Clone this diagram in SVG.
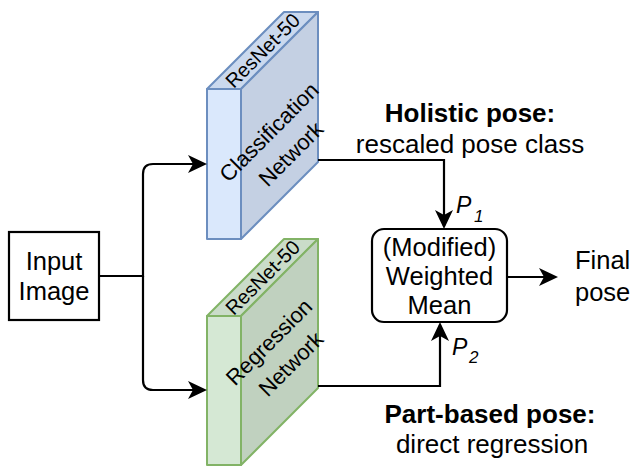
<svg xmlns="http://www.w3.org/2000/svg" width="632" height="467" viewBox="0 0 632 467">
<defs>
<marker id="arr" markerUnits="userSpaceOnUse" markerWidth="19" markerHeight="18" viewBox="0 0 19 18" refX="16" refY="9" orient="auto">
<path d="M0,0 L19,9 L0,18 L5,9 z" fill="#000"/>
</marker>
</defs>
<style>
text{font-family:"Liberation Sans",Arial,Helvetica,sans-serif;fill:#000}
.t{font-size:25.5px;text-anchor:middle}
.l{font-size:26px;text-anchor:middle}
.b{font-weight:bold}
.r{font-size:22px;text-anchor:middle}
.rn{font-size:20px;text-anchor:middle}
.p{font-size:23px;font-style:italic}
.s{font-size:17px;font-style:italic}
.conn path{fill:none;stroke:#000;stroke-width:2.2}
.blue{stroke:#6c8ebf;stroke-width:2;stroke-linejoin:round}
.green{stroke:#82b366;stroke-width:2;stroke-linejoin:round}
</style>
<g id="input">
<rect x="9" y="232" width="90" height="88" fill="#fff" stroke="#000" stroke-width="2.2"/>
<text class="t" x="54" y="270">Input</text>
<text class="t" x="54" y="300">Image</text>
</g>
<g id="classification">
<rect class="blue" x="207" y="89" width="34" height="150" fill="#dae8fc"/>
<polygon class="blue" points="207,89 241,89 318,12 284,12" fill="#cbd9ee"/>
<polygon class="blue" points="241,89 318,12 318,162 241,239" fill="#c4d0e3"/>
<text class="rn" transform="translate(262.5,50.5) rotate(-45)" y="7">ResNet-50</text>
<g transform="translate(280,143) rotate(-45)">
<text class="r" y="-8">Classification</text>
<text class="r" y="23">Network</text>
</g>
</g>
<g id="regression">
<rect class="green" x="207" y="316" width="34" height="149" fill="#d5e8d4"/>
<polygon class="green" points="207,316 241,316 318,239 284,239" fill="#cadcc9"/>
<polygon class="green" points="241,316 318,239 318,388 241,465" fill="#c0d1bf"/>
<text class="rn" transform="translate(262.5,277.5) rotate(-45)" y="7">ResNet-50</text>
<g transform="translate(280,353) rotate(-45)">
<text class="r" y="-8">Regression</text>
<text class="r" y="23">Network</text>
</g>
</g>
<g id="mean">
<rect x="372" y="229" width="135" height="93" rx="12" fill="#fff" stroke="#000" stroke-width="2.2"/>
<text class="t" x="439.5" y="256">(Modified)</text>
<text class="t" x="439.5" y="285">Weighted</text>
<text class="t" x="439.5" y="314">Mean</text>
</g>
<g id="final">
<text class="t" x="575" y="269" style="text-anchor:start">Final</text>
<text class="t" x="575" y="301" style="text-anchor:start">pose</text>
</g>
<g id="labels">
<text class="l b" x="470" y="122">Holistic pose:</text>
<text class="l" x="470" y="153">rescaled pose class</text>
<text class="l b" x="490" y="423">Part-based pose:</text>
<text class="l" x="492" y="453">direct regression</text>
<text class="p" x="456" y="213">P</text><text class="s" x="474" y="222">1</text>
<text class="p" x="452" y="355">P</text><text class="s" x="469" y="363">2</text>
</g>
<g class="conn" id="connectors">
<path d="M99,276 H143 V174 Q143,164 153,164 H204" marker-end="url(#arr)"/>
<path d="M143,276 V380 Q143,390 153,390 H204" marker-end="url(#arr)"/>
<path d="M318,160 H444 V226" marker-end="url(#arr)"/>
<path d="M318,386 H440 V325" marker-end="url(#arr)"/>
<path d="M507,277 H555" marker-end="url(#arr)"/>
</g>
</svg>
